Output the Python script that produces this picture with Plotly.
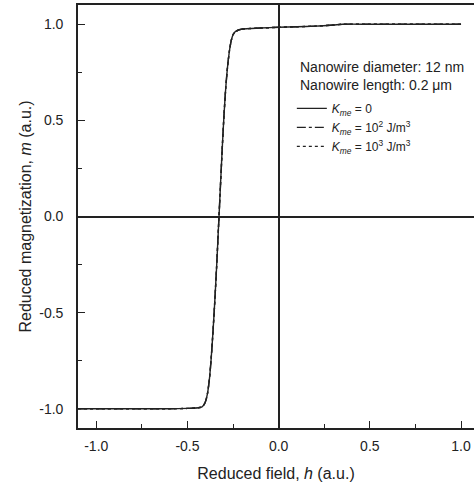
import plotly.graph_objects as go

# Reduced field h and reduced magnetization m
h_vals = [-1.1, -1.0, -0.8, -0.6, -0.5, -0.44, -0.42, -0.41, -0.40, -0.39, -0.38, -0.37,
          -0.36, -0.35, -0.34, -0.33, -0.32, -0.31, -0.30, -0.29, -0.28, -0.27, -0.26,
          -0.25, -0.24, -0.22, -0.20, -0.15, -0.10, 0.0, 0.1, 0.2, 0.3, 0.35, 0.5, 0.7, 1.0]
m_vals = [-1.0, -1.0, -1.0, -1.0, -0.998, -0.995, -0.99, -0.98, -0.96, -0.92, -0.85, -0.74,
          -0.60, -0.44, -0.26, -0.06, 0.14, 0.34, 0.52, 0.67, 0.78, 0.86, 0.915,
          0.945, 0.96, 0.97, 0.975, 0.978, 0.98, 0.984, 0.987, 0.99, 0.996, 1.0, 1.0, 1.0, 1.0]

series_names = ["<i>K</i><sub><i>me</i></sub> = 0",
                "<i>K</i><sub><i>me</i></sub> = 10<sup>2</sup> J/m<sup>3</sup>",
                "<i>K</i><sub><i>me</i></sub> = 10<sup>3</sup> J/m<sup>3</sup>"]
series_dash = ["solid", "dashdot", "dot"]
series_m = [m_vals, m_vals, m_vals]

x_tickvals = [-1.0, -0.5, 0.0, 0.5, 1.0]
x_ticktext = ["-1.0", "-0.5", "0.0", "0.5", "1.0"]
y_tickvals = [-1.0, -0.5, 0.0, 0.5, 1.0]
y_ticktext = ["-1.0", "-0.5", "0.0", "0.5", "1.0"]

FONT = "Liberation Sans, Arial, sans-serif"
INK = "#222222"

fig = go.Figure()
for name, dash, mv in zip(series_names, series_dash, series_m):
    fig.add_trace(go.Scatter(x=h_vals, y=mv, mode="lines", name=name,
                             line=dict(color=INK, width=1.4, dash=dash, shape="spline", smoothing=0.6)))

axis_common = dict(
    showgrid=False, zeroline=True, zerolinecolor=INK, zerolinewidth=1.6,
    showline=True, linecolor=INK, linewidth=1.6,
    ticks="inside", ticklen=7, tickwidth=1.4, tickcolor=INK,
    minor=dict(ticks="inside", ticklen=4, tickwidth=1.2, tickcolor=INK,
               tickmode="linear", tick0=0, dtick=0.25),
    tickfont=dict(family=FONT, size=14, color=INK),
)

fig.update_xaxes(range=[-1.1, 1.071], mirror=True, ticklabelstandoff=4,
                 tickmode="array", tickvals=x_tickvals, ticktext=x_ticktext,
                 title=dict(text="Reduced field, <i>h</i> (a.u.)", standoff=15,
                            font=dict(family=FONT, size=16, color=INK)),
                 **axis_common)
fig.update_yaxes(range=[-1.1, 1.1], mirror=False, ticklabelstandoff=10,
                 tickmode="array", tickvals=y_tickvals, ticktext=y_ticktext,
                 title=dict(text="Reduced magnetization, <i>m</i> (a.u.)", standoff=4,
                            font=dict(family=FONT, size=16, color=INK)),
                 **axis_common)

fig.add_annotation(text="Nanowire diameter: 12 nm<br>Nanowire length: 0.2 \u03bcm",
                   xref="paper", yref="paper", x=0.555, y=0.878, xanchor="left", yanchor="top",
                   showarrow=False, align="left",
                   font=dict(family=FONT, size=14, color=INK))

fig.update_layout(
    width=474, height=491,
    margin=dict(l=78, r=0, t=5, b=63),
    paper_bgcolor="white", plot_bgcolor="white",
    showlegend=True,
    legend=dict(x=0.54, y=0.79, xanchor="left", yanchor="top",
                bgcolor="rgba(0,0,0,0)", borderwidth=0, tracegroupgap=0,
                itemwidth=30,
                font=dict(family=FONT, size=12, color=INK)),
)

fig.write_html("out.html")
